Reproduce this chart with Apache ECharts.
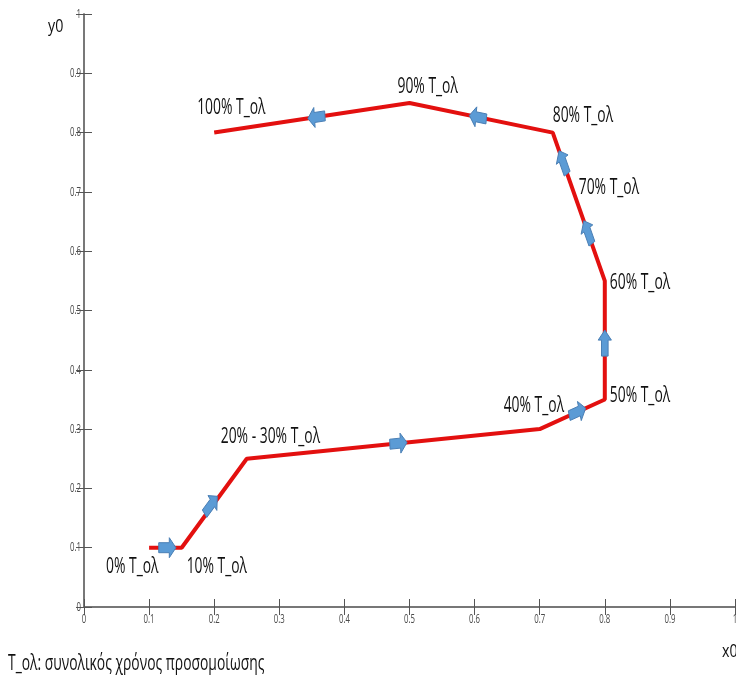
<!DOCTYPE html>
<html>
<head>
<meta charset="utf-8">
<script src="https://cdn.jsdelivr.net/npm/echarts@6/dist/echarts.min.js"></script>
<style>
html,body{margin:0;padding:0;background:#fff;}
#chart{width:736px;height:680px;}
</style>
</head>
<body>
<div id="chart"></div>
<script>
// Path of the trajectory (x0, y0)
var pathX = [0.10, 0.15, 0.25, 0.70, 0.80, 0.80, 0.72, 0.50, 0.20];
var pathY = [0.10, 0.10, 0.25, 0.30, 0.35, 0.55, 0.80, 0.85, 0.80];

// Direction arrows: position and the segment they lie on
var arrowX = [0.128, 0.195, 0.483, 0.758, 0.800, 0.774, 0.736, 0.605, 0.357];
var arrowY = [0.100, 0.172, 0.276, 0.329, 0.445, 0.632, 0.750, 0.826, 0.826];
var arrowSeg = [0, 1, 2, 3, 4, 5, 5, 6, 7];

// Annotation labels and their anchor points
var labelText = ['0% T_ολ', '10% T_ολ', '20% - 30% T_ολ', '40% T_ολ', '50% T_ολ',
                 '60% T_ολ', '70% T_ολ', '80% T_ολ', '90% T_ολ', '100% T_ολ'];
var labelX = [0.10, 0.15, 0.25, 0.70, 0.80, 0.80, 0.76, 0.72, 0.50, 0.20];
var labelY = [0.10, 0.10, 0.25, 0.30, 0.35, 0.55, 0.70, 0.80, 0.85, 0.80];

// Axis tick labels
var tickValues = [0, 0.1, 0.2, 0.3, 0.4, 0.5, 0.6, 0.7, 0.8, 0.9, 1];
var tickLabels = ['0', '0.1', '0.2', '0.3', '0.4', '0.5', '0.6', '0.7', '0.8', '0.9', '1'];

var xName = 'x0';
var yName = 'y0';
var footnote = 'T_ολ: συνολικός χρόνος προσομοίωσης';

// ---- styles (offsets in px) ----
var labelOffsets = [[-43, 19], [5, 19], [-26, -22], [-36, -23], [5, -3],
                    [5, 2], [0, -4], [0, -17], [-12, -16], [-17, -25]];
var SQ = 0.66; // horizontal condensation of the reference picture
var FONT = '"Open Sans", sans-serif';

var chart = echarts.init(document.getElementById('chart'));

var lineData = pathX.map(function(x, i){ return [x, pathY[i]]; });
var arrowData = arrowX.map(function(x, i){
  var s = arrowSeg[i];
  return [x, arrowY[i], pathX[s+1]-pathX[s], pathY[s+1]-pathY[s]];
});
var labelData = labelText.map(function(t, i){ return [labelX[i], labelY[i], i]; });
var tickData = tickValues.map(function(v, i){ return [v, i]; });

var axisCommon = {
  min: 0, max: 1, interval: 0.1,
  splitLine: {show: false},
  axisLabel: {show: false},
  axisLine: {lineStyle: {color: '#6f6f6f', width: 1.5}},
  axisTick: {inside: true, length: 8, lineStyle: {color: '#555'}}
};

chart.setOption({
  animation: false,
  backgroundColor: '#fff',
  grid: {left: 84, right: 1, top: 14, bottom: 73, containLabel: false},
  xAxis: [
    Object.assign({type: 'value', position: 'bottom'}, axisCommon),
    Object.assign({type: 'value', position: 'top'}, axisCommon)
  ],
  yAxis: [
    Object.assign({type: 'value', position: 'left'}, axisCommon),
    Object.assign({type: 'value', position: 'right'}, axisCommon)
  ],
  graphic: [
    {type: 'text', x: 48, y: 27, scaleX: 0.75,
      style: {text: yName, font: '19px ' + FONT, fill: '#111', verticalAlign: 'middle'}},
    {type: 'text', x: 722, y: 652, scaleX: 0.75,
      style: {text: xName, font: '19px ' + FONT, fill: '#111', verticalAlign: 'middle'}},
    {type: 'text', x: 8, y: 664, scaleX: SQ,
      style: {text: footnote, font: '21px ' + FONT, fill: '#111', verticalAlign: 'middle'}}
  ],
  series: [
    {
      type: 'line', data: lineData, symbol: 'none',
      lineStyle: {color: '#e3100f', width: 4}, z: 2
    },
    {
      type: 'custom', data: arrowData, z: 3, clip: false,
      renderItem: function(params, api){
        var p = api.coord([api.value(0), api.value(1)]);
        var q = api.coord([api.value(0) + api.value(2), api.value(1) + api.value(3)]);
        var a = Math.atan2(q[1]-p[1], (q[0]-p[0]) / SQ);
        var c = Math.cos(a), s = Math.sin(a);
        var local = [[-13,-5],[3,-5],[3,-10],[13,0],[3,10],[3,5],[-13,5]];
        var pts = local.map(function(v){
          return [p[0] + (c*v[0] - s*v[1]) * SQ, p[1] + s*v[0] + c*v[1]];
        });
        return {type: 'polygon', shape: {points: pts},
          style: {fill: '#5b9bd5', stroke: '#4a7fb5', lineWidth: 1}};
      }
    },
    {
      type: 'custom', data: labelData, z: 4, clip: false,
      renderItem: function(params, api){
        var i = api.value(2);
        var p = api.coord([api.value(0), api.value(1)]);
        return {type: 'text', x: p[0] + labelOffsets[i][0], y: p[1] + labelOffsets[i][1],
          scaleX: SQ,
          style: {text: labelText[i], font: '21px ' + FONT, fill: '#111',
            align: 'left', verticalAlign: 'middle'}};
      }
    },
    {
      type: 'custom', data: tickData, z: 4, clip: false,
      renderItem: function(params, api){
        var v = api.value(0), i = api.value(1);
        var px = api.coord([v, 0]);
        var py = api.coord([0, v]);
        return {type: 'group', children: [
          {type: 'text', x: px[0], y: px[1] + 12, scaleX: 0.6,
            style: {text: tickLabels[i], font: '13px ' + FONT, fill: '#4a4a4a',
              align: 'center', verticalAlign: 'middle'}},
          {type: 'text', x: py[0] - 3, y: py[1], scaleX: 0.6,
            style: {text: tickLabels[i], font: '13px ' + FONT, fill: '#4a4a4a',
              align: 'right', verticalAlign: 'middle'}}
        ]};
      }
    }
  ]
});
</script>
</body>
</html>
